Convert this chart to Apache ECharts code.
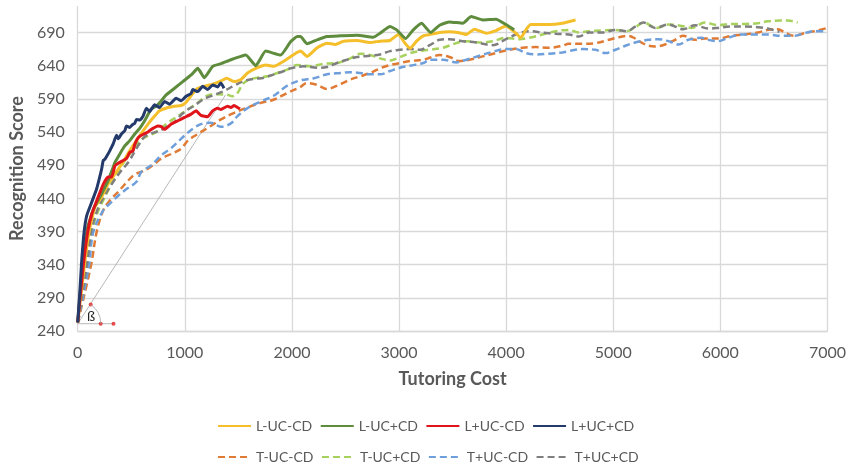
<!DOCTYPE html>
<html>
<head>
<meta charset="utf-8">
<script src="https://cdn.jsdelivr.net/npm/echarts@6/dist/echarts.min.js"></script>
<style>
html,body{margin:0;padding:0;background:#fff;}
#chart{width:849px;height:466px;}
</style>
</head>
<body>
<div id="chart"></div>
<script>
// ---- data (x = tutoring cost, y = recognition score) ----
const seriesNames = ['L-UC-CD','L-UC+CD','L+UC-CD','L+UC+CD','T-UC-CD','T-UC+CD','T+UC-CD','T+UC+CD'];
const xTicks = [0,1000,2000,3000,4000,5000,6000,7000];
const yTicks = [240,290,340,390,440,490,540,590,640,690];

const lMinusUcMinusCd = [[0,253],[62,339],[105,389],[161,427],[223,442],[284,462],[378,484],[439,499],[486,512],[548,527],[594,538],[656,552],[718,564],[764,572],[842,577],[904,579],[966,580],[1012,585],[1074,598],[1121,606],[1182,609],[1260,612],[1337,617],[1390,621],[1460,616],[1523,619],[1585,629],[1678,637],[1755,641],[1833,639],[1926,647],[2018,657],[2080,662],[2142,654],[2235,667],[2327,674],[2404,672],[2482,677],[2606,678],[2730,675],[2823,677],[2916,678],[2993,687],[3055,674],[3102,666],[3164,677],[3226,685],[3287,687],[3379,690],[3472,691],[3550,690],[3627,687],[3704,695],[3813,689],[3905,693],[3998,700],[4091,689],[4137,682],[4184,694],[4230,702],[4308,702],[4401,702],[4524,704],[4648,709]];
const lMinusUcPlusCd = [[0,253],[40,330],[90,395],[150,425],[223,447],[284,467],[331,487],[347,494],[393,507],[439,519],[486,527],[532,537],[580,546],[625,557],[687,575],[733,579],[764,584],[826,596],[904,606],[981,616],[1059,626],[1121,636],[1182,622],[1260,639],[1337,643],[1430,649],[1523,654],[1569,656],[1662,640],[1755,662],[1894,656],[1987,676],[2049,684],[2080,684],[2142,673],[2235,679],[2327,684],[2451,685],[2606,686],[2761,683],[2823,689],[2916,699],[2978,694],[3062,681],[3133,694],[3210,704],[3295,690],[3379,701],[3472,706],[3596,704],[3673,714],[3781,709],[3905,710],[3998,702],[4075,694]];
const lPlusUcMinusCd = [[0,253],[52,339],[93,389],[130,416],[176,436],[238,461],[284,472],[316,472],[347,489],[378,493],[424,497],[455,500],[486,509],[517,512],[532,521],[563,531],[594,535],[656,540],[687,544],[749,549],[780,548],[811,544],[873,552],[935,557],[997,562],[1059,567],[1105,572],[1151,565],[1213,563],[1260,572],[1306,576],[1337,574],[1399,579],[1430,577],[1460,580],[1492,577],[1515,575]];
const lPlusUcPlusCd = [[0,253],[20,300],[37,346],[60,390],[84,414],[130,434],[176,454],[205,472],[223,484],[238,497],[254,499],[280,506],[300,512],[331,522],[362,535],[378,530],[408,537],[439,542],[455,549],[486,547],[510,551],[532,553],[548,559],[580,558],[610,564],[641,576],[672,571],[718,581],[764,577],[811,586],[857,582],[919,591],[966,587],[1012,594],[1058,598],[1074,604],[1121,601],[1167,609],[1213,604],[1260,611],[1306,608],[1337,614],[1365,606]];
const tMinusUcMinusCd = [[0,253],[124,339],[176,389],[238,422],[300,437],[378,450],[455,464],[532,476],[625,482],[703,490],[780,500],[873,507],[966,515],[1028,527],[1121,537],[1213,546],[1337,559],[1461,569],[1585,577],[1709,584],[1833,589],[1957,599],[2080,608],[2142,614],[2235,611],[2327,605],[2451,612],[2544,619],[2637,624],[2730,629],[2823,636],[2916,641],[3009,644],[3102,647],[3226,649],[3287,652],[3379,656],[3472,653],[3565,647],[3658,649],[3781,654],[3905,659],[4029,664],[4153,667],[4277,668],[4400,667],[4524,670],[4586,673],[4710,673],[4834,674],[4958,679],[5050,683],[5143,685],[5205,681],[5298,672],[5391,669],[5484,672],[5577,679],[5654,685],[5763,679],[5856,681],[5979,681],[6103,685],[6226,687],[6350,690],[6443,694],[6536,695],[6614,689],[6691,685],[6784,689],[6908,693],[7000,697]];
const tMinusUcPlusCd = [[0,253],[90,339],[130,389],[190,421],[254,442],[331,467],[408,489],[486,507],[579,527],[656,534],[700,537],[749,542],[842,554],[935,564],[1028,574],[1121,584],[1198,594],[1275,597],[1399,596],[1446,594],[1492,599],[1539,612],[1601,619],[1678,622],[1771,624],[1864,629],[1956,634],[2049,641],[2173,639],[2297,643],[2420,644],[2544,651],[2637,658],[2730,656],[2823,651],[2916,648],[3009,653],[3102,659],[3226,663],[3287,664],[3410,667],[3534,674],[3627,677],[3751,675],[3875,677],[3998,682],[4122,680],[4215,682],[4339,687],[4463,692],[4586,694],[4679,690],[4772,692],[4896,693],[5020,694],[5128,692],[5205,698],[5283,705],[5407,697],[5515,702],[5639,700],[5732,697],[5856,705],[5979,701],[6103,703],[6226,703],[6350,704],[6443,707],[6552,708],[6629,708],[6722,705]];
const tPlusUcMinusCd = [[0,253],[105,339],[145,389],[238,422],[300,432],[378,444],[455,454],[548,465],[594,480],[687,490],[780,505],[873,516],[966,530],[1059,543],[1151,552],[1244,554],[1337,548],[1430,553],[1492,564],[1585,576],[1709,586],[1833,595],[1957,610],[2080,618],[2204,621],[2327,627],[2451,629],[2544,630],[2637,629],[2730,627],[2823,627],[2916,632],[3009,637],[3102,640],[3226,644],[3287,649],[3410,649],[3534,645],[3627,649],[3751,655],[3875,661],[3998,665],[4091,665],[4184,659],[4277,657],[4400,658],[4524,660],[4586,662],[4710,665],[4834,664],[4927,659],[5020,664],[5113,670],[5205,675],[5329,679],[5422,680],[5515,677],[5608,672],[5701,679],[5825,682],[5886,679],[5979,677],[6072,682],[6196,687],[6319,687],[6443,687],[6567,685],[6691,685],[6784,689],[6877,692],[7000,692]];
const tPlusUcPlusCd = [[0,253],[84,339],[124,389],[180,421],[238,441],[316,461],[393,479],[470,494],[563,519],[625,533],[687,538],[749,541],[811,546],[904,555],[966,566],[1028,574],[1090,580],[1182,590],[1275,596],[1368,602],[1461,610],[1554,617],[1647,620],[1740,622],[1833,627],[1926,632],[1987,636],[2111,639],[2235,637],[2327,638],[2420,644],[2513,649],[2606,653],[2730,655],[2823,657],[2916,662],[3009,664],[3102,665],[3195,664],[3287,671],[3380,679],[3472,680],[3596,677],[3720,675],[3875,671],[3998,680],[4091,687],[4215,692],[4339,690],[4463,688],[4586,687],[4679,684],[4772,690],[4896,690],[5020,694],[5128,692],[5205,699],[5283,705],[5391,697],[5515,702],[5654,695],[5763,701],[5886,696],[5979,697],[6103,699],[6226,699],[6350,698],[6443,696],[6552,691]];

// angle annotation (beta)
const betaVertex = [0,251];
const betaLineEnd = [1380,596];
const betaBaseEnd = [334,251];
const betaDots = [[121,280],[214,251],[334,251]];
const betaLabel = 'ß';

const seriesData = [lMinusUcMinusCd,lMinusUcPlusCd,lPlusUcMinusCd,lPlusUcPlusCd,tMinusUcMinusCd,tMinusUcPlusCd,tPlusUcMinusCd,tPlusUcPlusCd];
const colors = ['#F5BF2C','#5E8C3C','#E0141B','#233A6A','#E07B35','#A6D15C','#6F9FDB','#7F7F7F'];
const FONT = 'Lato, "Open Sans", sans-serif';
const TXT = '#595959';

const chart = echarts.init(document.getElementById('chart'), null, {renderer:'canvas'});

const series = seriesData.map((d,i) => ({
  name: seriesNames[i],
  type: 'line',
  data: d,
  symbol: 'none',
  smooth: i < 4 ? 0.15 : 0.35,
  z: i < 4 ? 3 : 2,
  lineStyle: {
    color: colors[i],
    width: i < 4 ? 3 : 2.5,
    type: i < 4 ? 'solid' : [7,4]
  },
  itemStyle: {color: colors[i]}
}));

series.push({
  name: 'betaLine', type: 'line', data: [betaVertex, betaLineEnd], symbol: 'none', silent: true,
  lineStyle: {color: '#A6A6A6', width: 0.8}, z: 1
});
series.push({
  name: 'betaBase', type: 'line', data: [betaVertex, betaBaseEnd], symbol: 'none', silent: true,
  lineStyle: {color: '#A6A6A6', width: 0.8}, z: 1
});
series.push({
  name: 'betaDots', type: 'scatter', data: betaDots, symbolSize: 4, silent: true,
  itemStyle: {color: '#E02020'}, z: 5
});

const legendBase = {
  left: 212, itemWidth: 33, itemHeight: 14, itemGap: 7.5,
  textStyle: {fontFamily: FONT, fontSize: 14, color: TXT},
  itemStyle: {opacity: 0},
  selectedMode: false
};

const option = {
  animation: false,
  backgroundColor: '#fff',
  grid: {left: 76, right: 19, top: 6, bottom: 135, containLabel: false},
  xAxis: {
    type: 'value', min: xTicks[0], max: xTicks[xTicks.length-1], interval: 1000,
    name: 'Tutoring Cost', nameLocation: 'middle', nameGap: 39,
    nameTextStyle: {fontFamily: FONT, fontSize: 18, fontWeight: 'bold', color: TXT},
    axisLine: {show: true, lineStyle: {color: '#D9D9D9', width: 1.3}},
    axisTick: {show: false},
    axisLabel: {fontFamily: FONT, fontSize: 16, color: TXT, margin: 14, formatter: v => String(v)},
    splitLine: {show: true, lineStyle: {color: '#D9D9D9', width: 1.3}}
  },
  yAxis: {
    type: 'value', min: yTicks[0], max: 730, interval: 50,
    name: 'Recognition Score', nameLocation: 'middle', nameGap: 46,
    nameTextStyle: {fontFamily: FONT, fontSize: 18, fontWeight: 'bold', color: TXT},
    axisLine: {show: false},
    axisTick: {show: false},
    axisLabel: {fontFamily: FONT, fontSize: 16, color: TXT, margin: 13, showMaxLabel: false, formatter: v => String(v)},
    splitLine: {show: true, showMaxLine: false, lineStyle: {color: '#D9D9D9', width: 1.3}}
  },
  legend: [
    Object.assign({}, legendBase, {data: seriesNames.slice(0,4), top: 414}),
    Object.assign({}, legendBase, {data: seriesNames.slice(4), top: 445})
  ],
  series: series
};
chart.setOption(option);

// arc + label for the angle annotation, positioned from data coordinates
const v = chart.convertToPixel({gridIndex:0}, betaVertex);
const d0 = chart.convertToPixel({gridIndex:0}, betaDots[0]);
const d1 = chart.convertToPixel({gridIndex:0}, betaDots[1]);
const lb = chart.convertToPixel({gridIndex:0}, [125, 262]);
const r = (Math.hypot(d0[0]-v[0], d0[1]-v[1]) + Math.hypot(d1[0]-v[0], d1[1]-v[1])) / 2;
const a0 = Math.atan2(d0[1]-v[1], d0[0]-v[0]);
chart.setOption({
  graphic: [
    {type: 'arc', shape: {cx: v[0], cy: v[1], r: r, startAngle: a0, endAngle: 0, clockwise: true},
     style: {stroke: '#A6A6A6', lineWidth: 0.8, fill: null}, silent: true, z: 10},
    {type: 'text', x: lb[0], y: lb[1], style: {text: betaLabel, fontFamily: FONT, fontSize: 14, fill: '#222', align: 'center', verticalAlign: 'middle'}, silent: true, z: 10}
  ]
});
</script>
</body>
</html>
